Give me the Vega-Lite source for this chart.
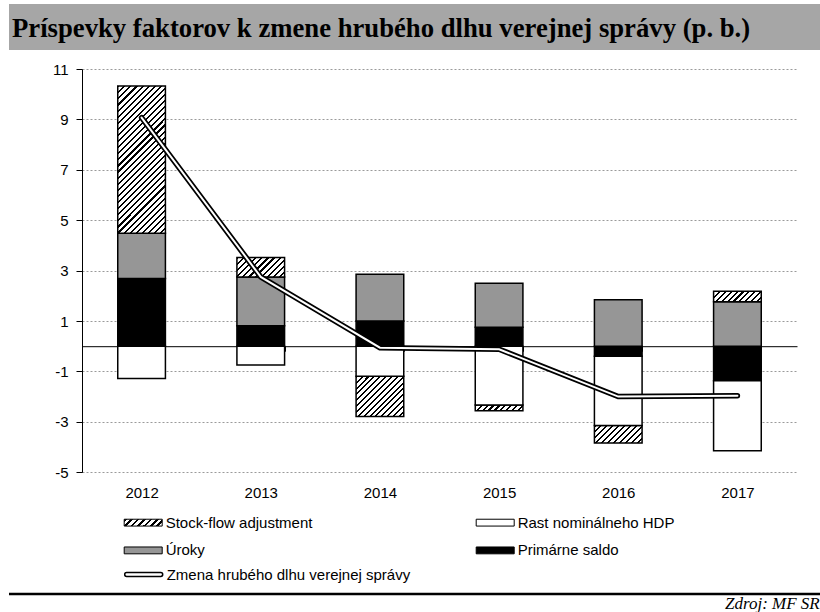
{
"$schema": "https://vega.github.io/schema/vega-lite/v6.json",
"padding": {"left": 7, "top": 4, "right": 0, "bottom": 0},
"background": "white",
"config": {"view": {"stroke": null}, "font": "Liberation Sans"},
"datasets": {
"factors": [
{"year":"2012","factor":"Primárne saldo","value":2.69},
{"year":"2012","factor":"Úroky","value":1.79},
{"year":"2012","factor":"Stock-flow adjustment","value":5.85},
{"year":"2012","factor":"Rast nominálneho HDP","value":-1.28},
{"year":"2013","factor":"Primárne saldo","value":0.81},
{"year":"2013","factor":"Úroky","value":1.94},
{"year":"2013","factor":"Stock-flow adjustment","value":0.77},
{"year":"2013","factor":"Rast nominálneho HDP","value":-0.75},
{"year":"2014","factor":"Primárne saldo","value":1.0},
{"year":"2014","factor":"Úroky","value":1.86},
{"year":"2014","factor":"Stock-flow adjustment","value":-1.6},
{"year":"2014","factor":"Rast nominálneho HDP","value":-1.19},
{"year":"2015","factor":"Primárne saldo","value":0.75},
{"year":"2015","factor":"Úroky","value":1.75},
{"year":"2015","factor":"Stock-flow adjustment","value":-0.23},
{"year":"2015","factor":"Rast nominálneho HDP","value":-2.33},
{"year":"2016","factor":"Primárne saldo","value":-0.4},
{"year":"2016","factor":"Úroky","value":1.84},
{"year":"2016","factor":"Stock-flow adjustment","value":-0.69},
{"year":"2016","factor":"Rast nominálneho HDP","value":-2.75},
{"year":"2017","factor":"Primárne saldo","value":-1.37},
{"year":"2017","factor":"Úroky","value":1.76},
{"year":"2017","factor":"Stock-flow adjustment","value":0.42},
{"year":"2017","factor":"Rast nominálneho HDP","value":-2.78}
],
"stackorder": [
{"factor":"Primárne saldo","rank":1},
{"factor":"Úroky","rank":2},
{"factor":"Rast nominálneho HDP","rank":3},
{"factor":"Stock-flow adjustment","rank":4}
],
"zmena": [
{"year":"2012","value":9.07},
{"year":"2013","value":2.75},
{"year":"2014","value":-0.06},
{"year":"2015","value":-0.12},
{"year":"2016","value":-2.0},
{"year":"2017","value":-1.97}
]
},
"spacing": 12,
"vconcat": [
{
"width": 813, "height": 46,
"view": {"fill": "#a6a6a6", "stroke": null},
"data": {"values": [{"t": "Príspevky faktorov k zmene hrubého dlhu verejnej správy (p. b.)"}]},
"mark": {"type": "text", "align": "left", "baseline": "alphabetic", "font": "Liberation Serif", "fontWeight": "bold", "fontSize": 26.7, "color": "#000"},
"encoding": {"text": {"field": "t"}, "x": {"value": 3}, "y": {"value": 33}}
},
{
"width": 788, "height": 403.2,
"layer": [
{
"data": {"name": "factors"},
"transform": [{"lookup": "factor", "from": {"data": {"name": "stackorder"}, "key": "factor", "fields": ["rank"]}}],
"mark": {"type": "bar", "stroke": "#000", "strokeWidth": 1.5},
"encoding": {
"x": {"field": "year", "type": "nominal", "scale": {"range": [73, 788], "paddingInner": 0.6, "paddingOuter": 0.3},
 "axis": {"title": " ", "titlePadding": 64, "titleFontSize": 15, "orient": "bottom", "offset": -126, "domain": true, "domainColor": "#000", "domainWidth": 1, "ticks": true, "tickBand": "extent", "tickSize": 5, "tickColor": "#000", "tickWidth": 1, "labelAngle": 0, "labelPadding": 134, "labelFont": "Liberation Sans", "labelFontSize": 15, "labelColor": "#000", "grid": false}},
"y": {"field": "value", "type": "quantitative", "stack": "zero", "scale": {"domain": [-5, 11], "nice": false, "zero": false},
 "axis": {"title": null, "orient": "left", "offset": -73, "values": [-5,-3,-1,1,3,5,7,9,11], "labelExpr": "toString(datum.value)", "domainColor": "#000", "tickColor": "#000", "tickSize": 6, "labelPadding": 8, "labelFont": "Liberation Sans", "labelFontSize": 15, "labelColor": "#000", "grid": true, "gridColor": "#9a9a9a", "gridDash": [2, 2], "gridWidth": 1}},
"order": {"field": "rank", "type": "quantitative"},
"fill": {
"field": "factor", "type": "nominal",
"scale": {"domain": ["Stock-flow adjustment","Rast nominálneho HDP","Úroky","Primárne saldo"], "range": [{"expr": "{'gradient':'linear','x1':0,'y1':0,'x2':1.1454,'y2':0.211,'stops':[{'offset':0,'color':'#000'},{'offset':0.06,'color':'#000'},{'offset':0.06,'color':'#fff'},{'offset':0.14286,'color':'#fff'},{'offset':0.14286,'color':'#000'},{'offset':0.20286,'color':'#000'},{'offset':0.20286,'color':'#fff'},{'offset':0.28571,'color':'#fff'},{'offset':0.28571,'color':'#000'},{'offset':0.34571,'color':'#000'},{'offset':0.34571,'color':'#fff'},{'offset':0.42857,'color':'#fff'},{'offset':0.42857,'color':'#000'},{'offset':0.48857,'color':'#000'},{'offset':0.48857,'color':'#fff'},{'offset':0.57143,'color':'#fff'},{'offset':0.57143,'color':'#000'},{'offset':0.63143,'color':'#000'},{'offset':0.63143,'color':'#fff'},{'offset':0.71429,'color':'#fff'},{'offset':0.71429,'color':'#000'},{'offset':0.77429,'color':'#000'},{'offset':0.77429,'color':'#fff'},{'offset':0.85714,'color':'#fff'},{'offset':0.85714,'color':'#000'},{'offset':0.91714,'color':'#000'},{'offset':0.91714,'color':'#fff'},{'offset':1,'color':'#fff'}]}"},"#ffffff","#969696","#000000"]},
"legend": {
"title": null, "orient": "none", "legendX": 114.7, "legendY": 498.9, "columns": 2, "direction": "horizontal", "padding": 0,
"symbolType": "M-1,-0.18H1V0.18H-1Z", "symbolSize": 1444, "symbolStrokeColor": "#000", "symbolStrokeWidth": 1,
"labelFont": "Liberation Sans", "labelFontSize": 15, "labelColor": "#000", "labelOffset": 3, "labelLimit": 400,
"columnPadding": 161, "rowPadding": -2.7
},
"condition": [
{"test": "datum.factor === 'Stock-flow adjustment' && datum.year === '2012'", "value": {"gradient":"linear","x1":0,"y1":0,"x2":0.3877,"y2":1.1981,"stops":[
{"offset":0,"color":"#000"},{"offset":0.01094,"color":"#000"},{"offset":0.01094,"color":"#fff"},{"offset":0.03125,"color":"#fff"},
{"offset":0.03125,"color":"#000"},{"offset":0.04219,"color":"#000"},{"offset":0.04219,"color":"#fff"},{"offset":0.0625,"color":"#fff"},
{"offset":0.0625,"color":"#000"},{"offset":0.07344,"color":"#000"},{"offset":0.07344,"color":"#fff"},{"offset":0.09375,"color":"#fff"},
{"offset":0.09375,"color":"#000"},{"offset":0.10469,"color":"#000"},{"offset":0.10469,"color":"#fff"},{"offset":0.125,"color":"#fff"},
{"offset":0.125,"color":"#000"},{"offset":0.13594,"color":"#000"},{"offset":0.13594,"color":"#fff"},{"offset":0.15625,"color":"#fff"},
{"offset":0.15625,"color":"#000"},{"offset":0.16719,"color":"#000"},{"offset":0.16719,"color":"#fff"},{"offset":0.1875,"color":"#fff"},
{"offset":0.1875,"color":"#000"},{"offset":0.19844,"color":"#000"},{"offset":0.19844,"color":"#fff"},{"offset":0.21875,"color":"#fff"},
{"offset":0.21875,"color":"#000"},{"offset":0.22969,"color":"#000"},{"offset":0.22969,"color":"#fff"},{"offset":0.25,"color":"#fff"},
{"offset":0.25,"color":"#000"},{"offset":0.26094,"color":"#000"},{"offset":0.26094,"color":"#fff"},{"offset":0.28125,"color":"#fff"},
{"offset":0.28125,"color":"#000"},{"offset":0.29219,"color":"#000"},{"offset":0.29219,"color":"#fff"},{"offset":0.3125,"color":"#fff"},
{"offset":0.3125,"color":"#000"},{"offset":0.32344,"color":"#000"},{"offset":0.32344,"color":"#fff"},{"offset":0.34375,"color":"#fff"},
{"offset":0.34375,"color":"#000"},{"offset":0.35469,"color":"#000"},{"offset":0.35469,"color":"#fff"},{"offset":0.375,"color":"#fff"},
{"offset":0.375,"color":"#000"},{"offset":0.38594,"color":"#000"},{"offset":0.38594,"color":"#fff"},{"offset":0.40625,"color":"#fff"},
{"offset":0.40625,"color":"#000"},{"offset":0.41719,"color":"#000"},{"offset":0.41719,"color":"#fff"},{"offset":0.4375,"color":"#fff"},
{"offset":0.4375,"color":"#000"},{"offset":0.44844,"color":"#000"},{"offset":0.44844,"color":"#fff"},{"offset":0.46875,"color":"#fff"},
{"offset":0.46875,"color":"#000"},{"offset":0.47969,"color":"#000"},{"offset":0.47969,"color":"#fff"},{"offset":0.5,"color":"#fff"},
{"offset":0.5,"color":"#000"},{"offset":0.51094,"color":"#000"},{"offset":0.51094,"color":"#fff"},{"offset":0.53125,"color":"#fff"},
{"offset":0.53125,"color":"#000"},{"offset":0.54219,"color":"#000"},{"offset":0.54219,"color":"#fff"},{"offset":0.5625,"color":"#fff"},
{"offset":0.5625,"color":"#000"},{"offset":0.57344,"color":"#000"},{"offset":0.57344,"color":"#fff"},{"offset":0.59375,"color":"#fff"},
{"offset":0.59375,"color":"#000"},{"offset":0.60469,"color":"#000"},{"offset":0.60469,"color":"#fff"},{"offset":0.625,"color":"#fff"},
{"offset":0.625,"color":"#000"},{"offset":0.63594,"color":"#000"},{"offset":0.63594,"color":"#fff"},{"offset":0.65625,"color":"#fff"},
{"offset":0.65625,"color":"#000"},{"offset":0.66719,"color":"#000"},{"offset":0.66719,"color":"#fff"},{"offset":0.6875,"color":"#fff"},
{"offset":0.6875,"color":"#000"},{"offset":0.69844,"color":"#000"},{"offset":0.69844,"color":"#fff"},{"offset":0.71875,"color":"#fff"},
{"offset":0.71875,"color":"#000"},{"offset":0.72969,"color":"#000"},{"offset":0.72969,"color":"#fff"},{"offset":0.75,"color":"#fff"},
{"offset":0.75,"color":"#000"},{"offset":0.76094,"color":"#000"},{"offset":0.76094,"color":"#fff"},{"offset":0.78125,"color":"#fff"},
{"offset":0.78125,"color":"#000"},{"offset":0.79219,"color":"#000"},{"offset":0.79219,"color":"#fff"},{"offset":0.8125,"color":"#fff"},
{"offset":0.8125,"color":"#000"},{"offset":0.82344,"color":"#000"},{"offset":0.82344,"color":"#fff"},{"offset":0.84375,"color":"#fff"},
{"offset":0.84375,"color":"#000"},{"offset":0.85469,"color":"#000"},{"offset":0.85469,"color":"#fff"},{"offset":0.875,"color":"#fff"},
{"offset":0.875,"color":"#000"},{"offset":0.88594,"color":"#000"},{"offset":0.88594,"color":"#fff"},{"offset":0.90625,"color":"#fff"},
{"offset":0.90625,"color":"#000"},{"offset":0.91719,"color":"#000"},{"offset":0.91719,"color":"#fff"},{"offset":0.9375,"color":"#fff"},
{"offset":0.9375,"color":"#000"},{"offset":0.94844,"color":"#000"},{"offset":0.94844,"color":"#fff"},{"offset":0.96875,"color":"#fff"},
{"offset":0.96875,"color":"#000"},{"offset":0.97969,"color":"#000"},{"offset":0.97969,"color":"#fff"},{"offset":1,"color":"#fff"}]}},
{"test": "datum.factor === 'Stock-flow adjustment' && datum.year === '2013'", "value": {"gradient":"linear","x1":0,"y1":0,"x2":1.207,"y2":0.4909,"stops":[
{"offset":0,"color":"#000"},{"offset":0.03182,"color":"#000"},{"offset":0.03182,"color":"#fff"},{"offset":0.09091,"color":"#fff"},
{"offset":0.09091,"color":"#000"},{"offset":0.12273,"color":"#000"},{"offset":0.12273,"color":"#fff"},{"offset":0.18182,"color":"#fff"},
{"offset":0.18182,"color":"#000"},{"offset":0.21364,"color":"#000"},{"offset":0.21364,"color":"#fff"},{"offset":0.27273,"color":"#fff"},
{"offset":0.27273,"color":"#000"},{"offset":0.30455,"color":"#000"},{"offset":0.30455,"color":"#fff"},{"offset":0.36364,"color":"#fff"},
{"offset":0.36364,"color":"#000"},{"offset":0.39545,"color":"#000"},{"offset":0.39545,"color":"#fff"},{"offset":0.45455,"color":"#fff"},
{"offset":0.45455,"color":"#000"},{"offset":0.48636,"color":"#000"},{"offset":0.48636,"color":"#fff"},{"offset":0.54545,"color":"#fff"},
{"offset":0.54545,"color":"#000"},{"offset":0.57727,"color":"#000"},{"offset":0.57727,"color":"#fff"},{"offset":0.63636,"color":"#fff"},
{"offset":0.63636,"color":"#000"},{"offset":0.66818,"color":"#000"},{"offset":0.66818,"color":"#fff"},{"offset":0.72727,"color":"#fff"},
{"offset":0.72727,"color":"#000"},{"offset":0.75909,"color":"#000"},{"offset":0.75909,"color":"#fff"},{"offset":0.81818,"color":"#fff"},
{"offset":0.81818,"color":"#000"},{"offset":0.85,"color":"#000"},{"offset":0.85,"color":"#fff"},{"offset":0.90909,"color":"#fff"},
{"offset":0.90909,"color":"#000"},{"offset":0.94091,"color":"#000"},{"offset":0.94091,"color":"#fff"},{"offset":1,"color":"#fff"}]}},
{"test": "datum.factor === 'Stock-flow adjustment' && datum.year === '2014'", "value": {"gradient":"linear","x1":0,"y1":0,"x2":1.0765,"y2":0.9095,"stops":[
{"offset":0,"color":"#000"},{"offset":0.02333,"color":"#000"},{"offset":0.02333,"color":"#fff"},{"offset":0.06667,"color":"#fff"},
{"offset":0.06667,"color":"#000"},{"offset":0.09,"color":"#000"},{"offset":0.09,"color":"#fff"},{"offset":0.13333,"color":"#fff"},
{"offset":0.13333,"color":"#000"},{"offset":0.15667,"color":"#000"},{"offset":0.15667,"color":"#fff"},{"offset":0.2,"color":"#fff"},
{"offset":0.2,"color":"#000"},{"offset":0.22333,"color":"#000"},{"offset":0.22333,"color":"#fff"},{"offset":0.26667,"color":"#fff"},
{"offset":0.26667,"color":"#000"},{"offset":0.29,"color":"#000"},{"offset":0.29,"color":"#fff"},{"offset":0.33333,"color":"#fff"},
{"offset":0.33333,"color":"#000"},{"offset":0.35667,"color":"#000"},{"offset":0.35667,"color":"#fff"},{"offset":0.4,"color":"#fff"},
{"offset":0.4,"color":"#000"},{"offset":0.42333,"color":"#000"},{"offset":0.42333,"color":"#fff"},{"offset":0.46667,"color":"#fff"},
{"offset":0.46667,"color":"#000"},{"offset":0.49,"color":"#000"},{"offset":0.49,"color":"#fff"},{"offset":0.53333,"color":"#fff"},
{"offset":0.53333,"color":"#000"},{"offset":0.55667,"color":"#000"},{"offset":0.55667,"color":"#fff"},{"offset":0.6,"color":"#fff"},
{"offset":0.6,"color":"#000"},{"offset":0.62333,"color":"#000"},{"offset":0.62333,"color":"#fff"},{"offset":0.66667,"color":"#fff"},
{"offset":0.66667,"color":"#000"},{"offset":0.69,"color":"#000"},{"offset":0.69,"color":"#fff"},{"offset":0.73333,"color":"#fff"},
{"offset":0.73333,"color":"#000"},{"offset":0.75667,"color":"#000"},{"offset":0.75667,"color":"#fff"},{"offset":0.8,"color":"#fff"},
{"offset":0.8,"color":"#000"},{"offset":0.82333,"color":"#000"},{"offset":0.82333,"color":"#fff"},{"offset":0.86667,"color":"#fff"},
{"offset":0.86667,"color":"#000"},{"offset":0.89,"color":"#000"},{"offset":0.89,"color":"#fff"},{"offset":0.93333,"color":"#fff"},
{"offset":0.93333,"color":"#000"},{"offset":0.95667,"color":"#000"},{"offset":0.95667,"color":"#fff"},{"offset":1,"color":"#fff"}]}},
{"test": "datum.factor === 'Stock-flow adjustment' && datum.year === '2015'", "value": {"gradient":"linear","x1":0,"y1":0,"x2":1.1053,"y2":0.1344,"stops":[
{"offset":0,"color":"#000"},{"offset":0.03889,"color":"#000"},{"offset":0.03889,"color":"#fff"},{"offset":0.11111,"color":"#fff"},
{"offset":0.11111,"color":"#000"},{"offset":0.15,"color":"#000"},{"offset":0.15,"color":"#fff"},{"offset":0.22222,"color":"#fff"},
{"offset":0.22222,"color":"#000"},{"offset":0.26111,"color":"#000"},{"offset":0.26111,"color":"#fff"},{"offset":0.33333,"color":"#fff"},
{"offset":0.33333,"color":"#000"},{"offset":0.37222,"color":"#000"},{"offset":0.37222,"color":"#fff"},{"offset":0.44444,"color":"#fff"},
{"offset":0.44444,"color":"#000"},{"offset":0.48333,"color":"#000"},{"offset":0.48333,"color":"#fff"},{"offset":0.55556,"color":"#fff"},
{"offset":0.55556,"color":"#000"},{"offset":0.59444,"color":"#000"},{"offset":0.59444,"color":"#fff"},{"offset":0.66667,"color":"#fff"},
{"offset":0.66667,"color":"#000"},{"offset":0.70556,"color":"#000"},{"offset":0.70556,"color":"#fff"},{"offset":0.77778,"color":"#fff"},
{"offset":0.77778,"color":"#000"},{"offset":0.81667,"color":"#000"},{"offset":0.81667,"color":"#fff"},{"offset":0.88889,"color":"#fff"},
{"offset":0.88889,"color":"#000"},{"offset":0.92778,"color":"#000"},{"offset":0.92778,"color":"#fff"},{"offset":1,"color":"#fff"}]}},
{"test": "datum.factor === 'Stock-flow adjustment' && datum.year === '2016'", "value": {"gradient":"linear","x1":0,"y1":0,"x2":1.2045,"y2":0.4394,"stops":[
{"offset":0,"color":"#000"},{"offset":0.03182,"color":"#000"},{"offset":0.03182,"color":"#fff"},{"offset":0.09091,"color":"#fff"},
{"offset":0.09091,"color":"#000"},{"offset":0.12273,"color":"#000"},{"offset":0.12273,"color":"#fff"},{"offset":0.18182,"color":"#fff"},
{"offset":0.18182,"color":"#000"},{"offset":0.21364,"color":"#000"},{"offset":0.21364,"color":"#fff"},{"offset":0.27273,"color":"#fff"},
{"offset":0.27273,"color":"#000"},{"offset":0.30455,"color":"#000"},{"offset":0.30455,"color":"#fff"},{"offset":0.36364,"color":"#fff"},
{"offset":0.36364,"color":"#000"},{"offset":0.39545,"color":"#000"},{"offset":0.39545,"color":"#fff"},{"offset":0.45455,"color":"#fff"},
{"offset":0.45455,"color":"#000"},{"offset":0.48636,"color":"#000"},{"offset":0.48636,"color":"#fff"},{"offset":0.54545,"color":"#fff"},
{"offset":0.54545,"color":"#000"},{"offset":0.57727,"color":"#000"},{"offset":0.57727,"color":"#fff"},{"offset":0.63636,"color":"#fff"},
{"offset":0.63636,"color":"#000"},{"offset":0.66818,"color":"#000"},{"offset":0.66818,"color":"#fff"},{"offset":0.72727,"color":"#fff"},
{"offset":0.72727,"color":"#000"},{"offset":0.75909,"color":"#000"},{"offset":0.75909,"color":"#fff"},{"offset":0.81818,"color":"#fff"},
{"offset":0.81818,"color":"#000"},{"offset":0.85,"color":"#000"},{"offset":0.85,"color":"#fff"},{"offset":0.90909,"color":"#fff"},
{"offset":0.90909,"color":"#000"},{"offset":0.94091,"color":"#000"},{"offset":0.94091,"color":"#fff"},{"offset":1,"color":"#fff"}]}},
{"test": "datum.factor === 'Stock-flow adjustment' && datum.year === '2017'", "value": {"gradient":"linear","x1":0,"y1":0,"x2":1.1647,"y2":0.2588,"stops":[
{"offset":0,"color":"#000"},{"offset":0.035,"color":"#000"},{"offset":0.035,"color":"#fff"},{"offset":0.1,"color":"#fff"},
{"offset":0.1,"color":"#000"},{"offset":0.135,"color":"#000"},{"offset":0.135,"color":"#fff"},{"offset":0.2,"color":"#fff"},
{"offset":0.2,"color":"#000"},{"offset":0.235,"color":"#000"},{"offset":0.235,"color":"#fff"},{"offset":0.3,"color":"#fff"},
{"offset":0.3,"color":"#000"},{"offset":0.335,"color":"#000"},{"offset":0.335,"color":"#fff"},{"offset":0.4,"color":"#fff"},
{"offset":0.4,"color":"#000"},{"offset":0.435,"color":"#000"},{"offset":0.435,"color":"#fff"},{"offset":0.5,"color":"#fff"},
{"offset":0.5,"color":"#000"},{"offset":0.535,"color":"#000"},{"offset":0.535,"color":"#fff"},{"offset":0.6,"color":"#fff"},
{"offset":0.6,"color":"#000"},{"offset":0.635,"color":"#000"},{"offset":0.635,"color":"#fff"},{"offset":0.7,"color":"#fff"},
{"offset":0.7,"color":"#000"},{"offset":0.735,"color":"#000"},{"offset":0.735,"color":"#fff"},{"offset":0.8,"color":"#fff"},
{"offset":0.8,"color":"#000"},{"offset":0.835,"color":"#000"},{"offset":0.835,"color":"#fff"},{"offset":0.9,"color":"#fff"},
{"offset":0.9,"color":"#000"},{"offset":0.935,"color":"#000"},{"offset":0.935,"color":"#fff"},{"offset":1,"color":"#fff"}]}}
]
}
}
},
{
"data": {"name": "zmena"},
"mark": {"type": "line", "strokeWidth": 5.5, "strokeCap": "round"},
"encoding": {"x": {"field": "year", "type": "nominal", "axis": {"title": " "}},
 "y": {"field": "value", "type": "quantitative", "axis": {"title": null}},
 "stroke": {"datum": "Zmena hrubého dlhu verejnej správy", "type": "nominal", "scale": {"range": ["#000000"]},
  "legend": {"title": null, "orient": "none", "legendX": 114.7, "legendY": 550.5, "padding": 0,
   "symbolType": "M-0.9,-0.1H0.9A0.1,0.1 0 0 1 0.9,0.1H-0.9A0.1,0.1 0 0 1 -0.9,-0.1Z", "symbolSize": 1444, "symbolStrokeWidth": 1.5, "symbolFillColor": "#ffffff", "symbolStrokeColor": "#000000",
   "labelFont": "Liberation Sans", "labelFontSize": 15, "labelColor": "#000", "labelOffset": 3, "labelLimit": 400}}}
},
{
"data": {"name": "zmena"},
"mark": {"type": "line", "stroke": "#fff", "strokeWidth": 2, "strokeCap": "round"},
"encoding": {"x": {"field": "year", "type": "nominal", "axis": {"title": " "}}, "y": {"field": "value", "type": "quantitative", "axis": {"title": null}}}
}
]
},
{
"width": 813, "height": 18,
"data": {"values": [{"src": "Zdroj: MF SR"}]},
"layer": [
{"mark": {"type": "rule", "stroke": "#000", "strokeWidth": 2.5}, "encoding": {"y": {"value": 0}}},
{"mark": {"type": "text", "align": "left", "baseline": "alphabetic", "font": "Liberation Serif", "fontStyle": "italic", "fontSize": 17, "clip": true, "color": "#000"},
 "encoding": {"text": {"field": "src"}, "x": {"value": 716}, "y": {"value": 15}}}
]
}
]
}
